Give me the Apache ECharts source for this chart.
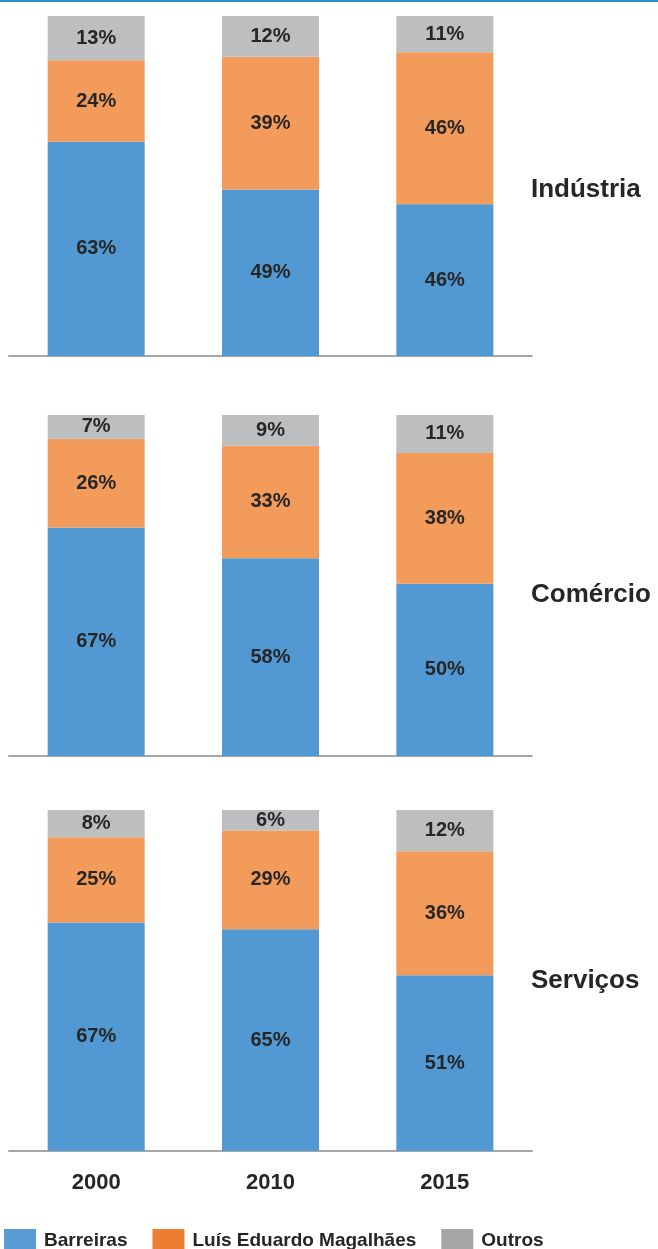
<!DOCTYPE html>
<html>
<head>
<meta charset="utf-8">
<style>
  html, body { margin: 0; padding: 0; background: #ffffff; }
  #chart { width: 658px; height: 1249px; }
</style>
<script src="https://cdn.jsdelivr.net/npm/echarts@6/dist/echarts.min.js"></script>
</head>
<body>
<div id="chart"></div>
<script>
// ---- Data ----
const categories = ['2000', '2010', '2015'];
const sectors = ['Indústria', 'Comércio', 'Serviços'];
const seriesNames = ['Barreiras', 'Luís Eduardo Magalhães', 'Outros'];

const industriaBarreiras = [63, 49, 46];
const industriaLEM       = [24, 39, 46];
const industriaOutros    = [13, 12, 11];

const comercioBarreiras  = [67, 58, 50];
const comercioLEM        = [26, 33, 38];
const comercioOutros     = [7, 9, 11];

const servicosBarreiras  = [67, 65, 51];
const servicosLEM        = [25, 29, 36];
const servicosOutros     = [8, 6, 12];

// ---- Styling ----
const FONT = '"Liberation Sans", Arial, Helvetica, sans-serif';
const barColors = ['#5299D3', '#F39B5A', '#BDBEC0'];
const legendColors = ['#5B9BD5', '#ED7D31', '#A5A5A5'];

const panels = [
  [industriaBarreiras, industriaLEM, industriaOutros],
  [comercioBarreiras, comercioLEM, comercioOutros],
  [servicosBarreiras, servicosLEM, servicosOutros]
];

const gridTops = [16, 415, 810];
const gridHeights = [340, 341, 341];
const titleY = [192, 597, 983];

const grids = [], xAxes = [], yAxes = [], series = [], graphics = [];

panels.forEach((panel, p) => {
  grids.push({ left: 9, right: 126, top: gridTops[p], height: gridHeights[p], containLabel: false });
  xAxes.push({
    type: 'category', gridIndex: p, data: categories,
    axisTick: { show: false },
    axisLine: { show: true, lineStyle: { color: '#A6A6A6', width: 2 } },
    axisLabel: {
      show: p === 2, margin: 21, fontSize: 22, fontWeight: 'bold',
      color: '#262626', fontFamily: FONT
    }
  });
  yAxes.push({ type: 'value', gridIndex: p, min: 0, max: 100, show: false, splitLine: { show: false } });

  // 100% stacked: each category normalized to its total
  const totals = categories.map((_, i) => panel.reduce((s, arr) => s + arr[i], 0));
  panel.forEach((vals, s) => {
    series.push({
      type: 'bar', name: seriesNames[s], xAxisIndex: p, yAxisIndex: p,
      stack: 'panel' + p, barWidth: 97,
      itemStyle: { color: barColors[s] },
      data: vals.map((v, i) => v / totals[i] * 100),
      label: {
        show: true, position: 'inside', fontSize: 20, fontWeight: 'bold',
        color: '#262626', fontFamily: FONT,
        formatter: (prm) => vals[prm.dataIndex] + '%'
      },
      emphasis: { disabled: true }
    });
  });

  graphics.push({
    type: 'text', left: 531, top: titleY[p] - 15,
    style: {
      text: sectors[p], fill: '#262626', fontSize: 26, fontWeight: 'bold',
      fontFamily: FONT
    }
  });
});

// top accent line
graphics.push({
  type: 'rect', left: 0, top: 0, shape: { width: 658, height: 2 },
  style: { fill: '#2E8FC4' }
});

const chart = echarts.init(document.getElementById('chart'), null, { renderer: 'canvas' });
chart.setOption({
  animation: false,
  backgroundColor: '#ffffff',
  grid: grids,
  xAxis: xAxes,
  yAxis: yAxes,
  series: series,
  graphic: graphics,
  legend: {
    left: 4, top: 1229, padding: 0,
    itemWidth: 32, itemHeight: 24, itemGap: 25,
    selectedMode: false, icon: 'rect',
    textStyle: { fontSize: 19, fontWeight: 'bold', color: '#262626', fontFamily: FONT, padding: [0, 0, 0, 3] },
    data: seriesNames.map((n, i) => ({ name: n, itemStyle: { color: legendColors[i] } }))
  }
});
</script>
</body>
</html>
